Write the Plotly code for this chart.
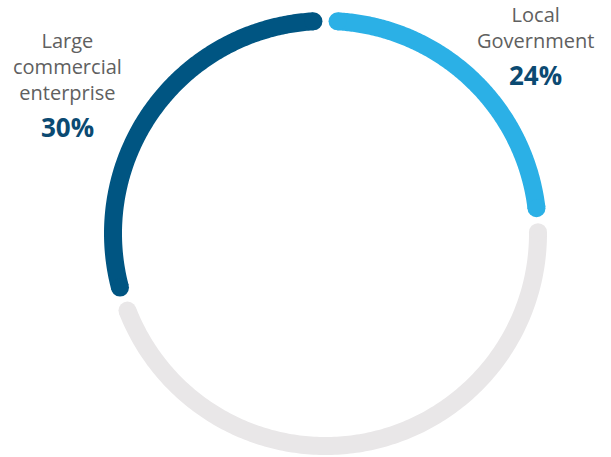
import numpy as np
import plotly.graph_objects as go

# Share of respondents by organisation type (percent)
segment_names = ["Local Government", "Other", "Large commercial enterprise"]
segment_values = [24, 46, 30]
segment_colors = ["#2BB0E6", "#E9E7E8", "#005582"]

RING_WIDTH = 18      # stroke width of each arc, px
GAP_DEG = 6.5        # angular gap between neighbouring arc cap centres
R_MAX = 1.05         # radial headroom so the thick stroke is not clipped

fig = go.Figure()

total = sum(segment_values)
start = 0.0
for name, val, col in zip(segment_names, segment_values, segment_colors):
    span = 360.0 * val / total
    a0 = start + GAP_DEG / 2
    a1 = start + span - GAP_DEG / 2
    theta = np.linspace(a0, a1, 200)
    # the arc itself
    fig.add_trace(go.Scatterpolar(
        r=np.ones_like(theta),
        theta=theta,
        mode="lines",
        line=dict(color=col, width=RING_WIDTH),
        hoverinfo="skip",
        name=name,
    ))
    # round caps at both ends
    fig.add_trace(go.Scatterpolar(
        r=[1, 1],
        theta=[a0, a1],
        mode="markers",
        marker=dict(color=col, size=RING_WIDTH, opacity=1, line=dict(width=0)),
        cliponaxis=False,
        hoverinfo="skip",
        name=name,
    ))
    start += span

rad_px = 212.5 * R_MAX
cx, cy = 325.5, 457 - 233.5
fig.update_layout(
    width=611,
    height=457,
    margin=dict(l=0, r=0, t=0, b=0),
    paper_bgcolor="white",
    showlegend=False,
    polar=dict(
        domain=dict(x=[(cx - rad_px) / 611, (cx + rad_px) / 611],
                    y=[(cy - rad_px) / 457, (cy + rad_px) / 457]),
        bgcolor="rgba(0,0,0,0)",
        radialaxis=dict(visible=False, range=[0, R_MAX]),
        angularaxis=dict(visible=False, rotation=90, direction="clockwise"),
    ),
)

label_font = dict(family="Open Sans", size=20, color="#606060")
pct_font = dict(family="Open Sans", size=26, color="#0B4A72")

# Local Government label (upper right)
fig.add_annotation(
    text="Local<br>Government", x=535 / 611, y=1 + 1 / 457,
    xref="paper", yref="paper", xanchor="center", yanchor="top",
    showarrow=False, font=label_font, align="center",
)
fig.add_annotation(
    text=f"<b>{segment_values[0]}%</b>", x=535 / 611, y=1 - 55 / 457,
    xref="paper", yref="paper", xanchor="center", yanchor="top",
    showarrow=False, font=pct_font,
)

# Large commercial enterprise label (upper left)
fig.add_annotation(
    text="Large<br>commercial<br>enterprise", x=67 / 611, y=1 - 25 / 457,
    xref="paper", yref="paper", xanchor="center", yanchor="top",
    showarrow=False, font=label_font, align="center",
)
fig.add_annotation(
    text=f"<b>{segment_values[2]}%</b>", x=67 / 611, y=1 - 107 / 457,
    xref="paper", yref="paper", xanchor="center", yanchor="top",
    showarrow=False, font=pct_font,
)

fig.write_html("out.html")
